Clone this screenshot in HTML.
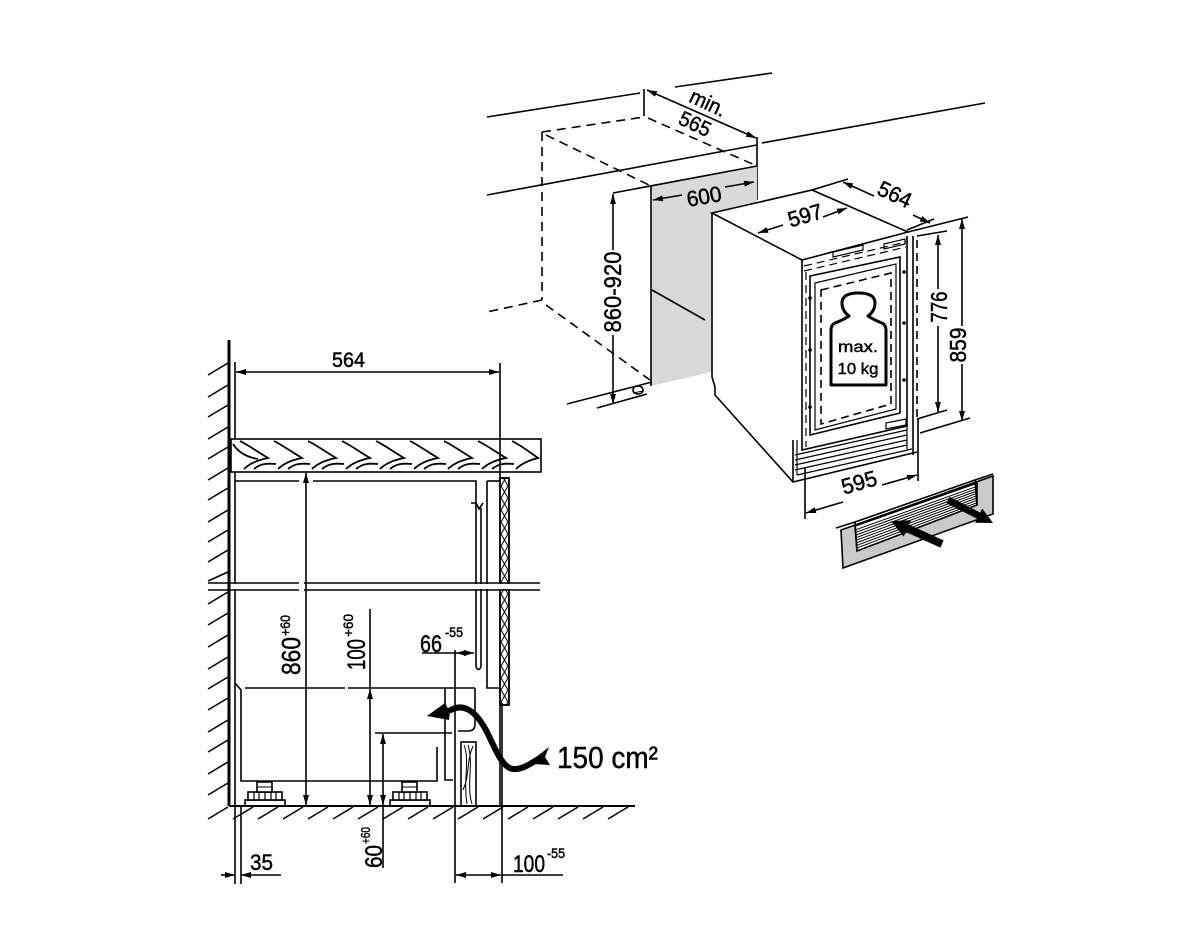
<!DOCTYPE html>
<html><head><meta charset="utf-8"><style>
html,body{margin:0;padding:0;background:#fff;}
svg{display:block;}
text{font-family:"Liberation Sans",sans-serif;fill:#000;stroke:#000;stroke-width:0.45;}
</style></head><body>
<svg width="1200" height="932" viewBox="0 0 1200 932" xmlns="http://www.w3.org/2000/svg">
<defs>
<marker id="ar" viewBox="0 0 10 6" refX="10" refY="3" markerWidth="10" markerHeight="6" markerUnits="userSpaceOnUse" orient="auto-start-reverse"><path d="M0,0L10,3L0,6z" fill="#000" stroke="none"/></marker>
<pattern id="dia" patternUnits="userSpaceOnUse" x="500" y="480" width="9" height="12"><path d="M4.5,0L1,6L4.5,12M4.5,0L8,6L4.5,12" stroke="#000" stroke-width="1" fill="none"/></pattern>
</defs>
<rect width="1200" height="932" fill="#fff"/>

<!-- ================= LEFT SECTION ================= -->
<g stroke="#000" stroke-width="1.6" fill="none">
<!-- wall -->
<line x1="229" y1="340" x2="229" y2="806" stroke-width="3"/>
<line x1="235" y1="362" x2="235" y2="884"/>
<g stroke-width="1.6">
<line x1="208" y1="375" x2="228" y2="363"/><line x1="208" y1="397" x2="228" y2="385"/>
<line x1="208" y1="417" x2="228" y2="405"/><line x1="208" y1="439" x2="228" y2="427"/>
<line x1="208" y1="459" x2="228" y2="447"/><line x1="208" y1="480" x2="228" y2="468"/>
<line x1="208" y1="500" x2="228" y2="488"/><line x1="208" y1="522" x2="228" y2="510"/>
<line x1="208" y1="542" x2="228" y2="530"/><line x1="208" y1="562" x2="228" y2="550"/>
<line x1="208" y1="581" x2="228" y2="572"/>
<line x1="208" y1="604" x2="228" y2="592"/><line x1="208" y1="625" x2="228" y2="613"/>
<line x1="208" y1="647" x2="228" y2="635"/><line x1="208" y1="669" x2="228" y2="657"/>
<line x1="208" y1="689" x2="228" y2="677"/><line x1="208" y1="710" x2="228" y2="698"/>
<line x1="208" y1="732" x2="228" y2="720"/><line x1="208" y1="752" x2="228" y2="740"/>
<line x1="208" y1="774" x2="228" y2="762"/><line x1="208" y1="795" x2="228" y2="783"/>
</g>

<!-- worktop -->
<rect x="231" y="439" width="310" height="33" fill="#fff"/>
<g stroke-width="1.8">
<path d="M240,441 C250,446 256,451 268,458 C258,460 250,463 244,469"/>
<path d="M274,441 C284,446 290,451 302,458 C292,460 284,463 278,469"/>
<path d="M308,441 C318,446 324,451 336,458 C326,460 318,463 312,469"/>
<path d="M342,441 C352,446 358,451 370,458 C360,460 352,463 346,469"/>
<path d="M376,441 C386,446 392,451 404,458 C394,460 386,463 380,469"/>
<path d="M410,441 C420,446 426,451 438,458 C428,460 420,463 414,469"/>
<path d="M444,441 C454,446 460,451 472,458 C462,460 454,463 448,469"/>
<path d="M478,441 C488,446 494,451 506,458 C496,460 488,463 482,469"/>
<path d="M512,441 C522,446 528,451 538,458 C530,460 522,463 516,469"/>
<path d="M233,444 C238,452 246,457 258,459"/>
<path d="M254,469 C260,464 266,463 276,464"/>
<path d="M288,469 C294,464 300,463 310,464"/>
<path d="M322,469 C328,464 334,463 344,464"/>
<path d="M356,469 C362,464 368,463 378,464"/>
<path d="M390,469 C396,464 402,463 412,464"/>
<path d="M424,469 C430,464 436,463 446,464"/>
<path d="M458,469 C464,464 470,463 480,464"/>
<path d="M492,469 C498,464 504,463 514,464"/>
</g>

<!-- 564 dimension -->
<line x1="236" y1="372" x2="499" y2="372" marker-start="url(#ar)" marker-end="url(#ar)"/>
<line x1="500" y1="363" x2="500" y2="478"/>

<!-- cabinet top -->
<line x1="235" y1="481" x2="299" y2="481"/>
<line x1="313" y1="481" x2="470" y2="481"/>
<path d="M470,481 H476 V667"/>
<path d="M471,503 H476 L479,509 L483,503"/>
<line x1="481" y1="508" x2="481" y2="667"/>
<path d="M476,667 Q478.5,672 481,667"/>
<path d="M487,481 V688 H500"/>
<line x1="487" y1="481" x2="500" y2="481"/>

<!-- door panel -->
<rect x="500" y="478" width="9" height="227" fill="url(#dia)"/>
<rect x="500" y="478" width="9" height="227"/>

<!-- break lines -->
<rect x="207" y="584" width="335" height="5" fill="#fff" stroke="none"/>
<line x1="208" y1="583" x2="299" y2="583"/><line x1="304" y1="583" x2="540" y2="583"/>
<line x1="208" y1="590" x2="299" y2="590"/><line x1="304" y1="590" x2="540" y2="590"/>
<line x1="229" y1="583" x2="229" y2="590" stroke-width="3"/>

<!-- appliance lower part -->
<path d="M235,683 L241,690 V781 H437 V747"/>
<line x1="245" y1="688" x2="345" y2="688"/>
<line x1="348" y1="688" x2="475" y2="688"/>
<path d="M445,688 V780 H453"/>
<path d="M475,688 V724 Q475,731 468,731 H458"/>
<line x1="500" y1="705" x2="500" y2="806"/>
<line x1="502" y1="703" x2="502" y2="883"/>

<!-- feet -->
<rect x="245" y="800" width="40" height="6" fill="#fff"/>
<rect x="248" y="792" width="34" height="8" fill="#fff"/>
<path d="M254,792V800M259,792V800M265,792V800M271,792V800M276,792V800" stroke-width="1.2"/>
<rect x="257" y="782" width="15" height="10" fill="#fff"/>
<line x1="257" y1="787" x2="272" y2="787" stroke-width="1"/>
<rect x="390" y="800" width="40" height="6" fill="#fff"/>
<rect x="393" y="792" width="34" height="8" fill="#fff"/>
<path d="M399,792V800M404,792V800M410,792V800M416,792V800M421,792V800" stroke-width="1.2"/>
<rect x="402" y="782" width="15" height="10" fill="#fff"/>
<line x1="402" y1="787" x2="417" y2="787" stroke-width="1"/>

<!-- plinth wood -->
<rect x="461" y="742" width="15" height="64" fill="#fff"/>
<path d="M464,745 C470,760 463,780 467,804 M468,745 C474,765 466,785 472,804 M473,746 C466,762 470,775 463,790" stroke-width="1"/>

<!-- floor -->
<line x1="229" y1="806" x2="635" y2="806" stroke-width="2"/>
<g stroke-width="1.5">
<line x1="228" y1="807" x2="208" y2="819"/><line x1="253" y1="807" x2="233" y2="819"/>
<line x1="278" y1="807" x2="258" y2="819"/><line x1="303" y1="807" x2="283" y2="819"/>
<line x1="328" y1="807" x2="308" y2="819"/><line x1="353" y1="807" x2="333" y2="819"/>
<line x1="378" y1="807" x2="358" y2="819"/><line x1="403" y1="807" x2="383" y2="819"/>
<line x1="428" y1="807" x2="408" y2="819"/><line x1="453" y1="807" x2="433" y2="819"/>
<line x1="478" y1="807" x2="458" y2="819"/><line x1="503" y1="807" x2="483" y2="819"/>
<line x1="528" y1="807" x2="508" y2="819"/><line x1="553" y1="807" x2="533" y2="819"/>
<line x1="578" y1="807" x2="558" y2="819"/><line x1="603" y1="807" x2="583" y2="819"/>
<line x1="628" y1="807" x2="608" y2="819"/>
</g>

<!-- dimensions -->
<line x1="306" y1="473" x2="306" y2="805" marker-start="url(#ar)" marker-end="url(#ar)"/>
<line x1="370" y1="609" x2="370" y2="688"/>
<line x1="370" y1="689" x2="370" y2="805" marker-start="url(#ar)" marker-end="url(#ar)"/>
<line x1="383" y1="734" x2="383" y2="805" marker-start="url(#ar)" marker-end="url(#ar)"/>
<line x1="383" y1="806" x2="383" y2="868"/>
<line x1="375" y1="733" x2="452" y2="733"/>
<line x1="241" y1="806" x2="241" y2="884"/>
<line x1="221" y1="875" x2="235" y2="875" marker-end="url(#ar)"/>
<line x1="281" y1="875" x2="241" y2="875" marker-end="url(#ar)"/>
<line x1="422" y1="653" x2="456" y2="653"/>
<line x1="456" y1="653" x2="474" y2="653" marker-start="url(#ar)" marker-end="url(#ar)"/>
<line x1="455" y1="650" x2="455" y2="883"/>
<line x1="456" y1="875" x2="501" y2="875" marker-start="url(#ar)" marker-end="url(#ar)"/>
<line x1="502" y1="875" x2="563" y2="875"/>

<!-- curved air arrow -->
<path d="M449,711 C466,700 479,716 488,734 C496,751 503,768 513,769 C523,770 533,762 543,756" stroke-width="6"/>
</g>
<polygon points="427,716 445,703 450,712 449,720" fill="#000"/>
<polygon points="535,758 549,747 545,757 550,765 533,764" fill="#000"/>

<!-- left labels -->
<text x="332" y="367" font-size="21" textLength="33" lengthAdjust="spacingAndGlyphs">564</text>
<text transform="translate(300,675) rotate(-90)" font-size="26" textLength="38" lengthAdjust="spacingAndGlyphs">860</text>
<text transform="translate(290,636) rotate(-90)" font-size="14" textLength="21" lengthAdjust="spacingAndGlyphs">+60</text>
<text transform="translate(365,670) rotate(-90)" font-size="25" textLength="31" lengthAdjust="spacingAndGlyphs">100</text>
<text transform="translate(353,637) rotate(-90)" font-size="14" textLength="23" lengthAdjust="spacingAndGlyphs">+60</text>
<text transform="translate(382,868) rotate(-90)" font-size="24" textLength="23" lengthAdjust="spacingAndGlyphs">60</text>
<text transform="translate(370,844) rotate(-90)" font-size="13" textLength="17" lengthAdjust="spacingAndGlyphs">+60</text>
<text x="250" y="870" font-size="22" textLength="23" lengthAdjust="spacingAndGlyphs">35</text>
<text x="420" y="652" font-size="24" textLength="22" lengthAdjust="spacingAndGlyphs">66</text>
<text x="445" y="637" font-size="14" textLength="18" lengthAdjust="spacingAndGlyphs">-55</text>
<text x="513" y="872" font-size="24" textLength="32" lengthAdjust="spacingAndGlyphs">100</text>
<text x="547" y="858" font-size="14" textLength="18" lengthAdjust="spacingAndGlyphs">-55</text>
<text x="557" y="768" font-size="31" textLength="101" lengthAdjust="spacingAndGlyphs">150 cm²</text>

<!-- ================= RIGHT SECTION ================= -->
<g stroke="#000" stroke-width="1.6" fill="none">
<line x1="487" y1="117" x2="640" y2="93"/>
<line x1="675" y1="87" x2="772" y2="73"/>
<line x1="762" y1="143" x2="985" y2="103"/>
<line x1="487" y1="195" x2="757" y2="145"/>
<line x1="644" y1="89" x2="644" y2="116"/>
<line x1="757" y1="137" x2="757" y2="200"/>
<line x1="647" y1="90" x2="756" y2="138" marker-start="url(#ar)" marker-end="url(#ar)"/>

<g stroke-dasharray="9 6">
<line x1="542" y1="132" x2="644" y2="117"/>
<line x1="542" y1="132" x2="542" y2="300"/>
<line x1="542" y1="300" x2="487" y2="312"/>
<line x1="546" y1="305" x2="650" y2="380"/>
<line x1="546" y1="135" x2="651" y2="186"/>
<line x1="648" y1="118" x2="757" y2="166"/>
</g>

<polygon points="651,186 757,166 757,360 711,372 651,386" fill="#d9d9d9" stroke="none"/>
<line x1="651" y1="186" x2="651" y2="386"/>
<line x1="613" y1="193" x2="757" y2="166"/>
<line x1="652" y1="290" x2="705" y2="320"/>
<line x1="613" y1="194" x2="613" y2="250" marker-start="url(#ar)"/>
<line x1="613" y1="335" x2="613" y2="404" marker-end="url(#ar)"/>
<line x1="567" y1="404" x2="652" y2="382"/>
<line x1="597" y1="408" x2="647" y2="394"/>
<ellipse cx="638" cy="390" rx="5" ry="4" fill="#fff"/>
<line x1="633" y1="393" x2="643" y2="391" stroke-width="1"/>

<!-- 600 dim -->
<line x1="653" y1="200" x2="682" y2="195" marker-start="url(#ar)"/>
<line x1="725" y1="187" x2="754" y2="182" marker-end="url(#ar)"/>

<!-- appliance body -->
<polygon points="712,213 812,190 908,232 913,236 913,458 793,482 715,395 712,377" fill="#fff" stroke="none"/>
<path d="M712,213 L812,190 L908,232 L802,260 Z"/>
<path d="M712,213 V377 L715,387 V395 L793,482 L917,452"/>
<line x1="793" y1="440" x2="793" y2="482"/>
<line x1="913" y1="236" x2="913" y2="455"/>
<line x1="917" y1="240" x2="917" y2="420" stroke-dasharray="8 5"/>

<!-- door -->
<path d="M802,260 V450 L907,426 V236"/>
<path d="M810,276 L900,257 V413 L810,435 Z"/>
<path d="M815,283 L896,264 V409 L815,430 Z" stroke-width="1.2"/>
<path d="M821,290 L891,273 V404 L821,424 Z" stroke-dasharray="8 5"/>
<line x1="806" y1="272" x2="806" y2="447" stroke-dasharray="8 5" stroke-width="1.2"/>
<path d="M804,266 L906,242" stroke-dasharray="8 5" stroke-width="1.2"/>
<path d="M804,271 L906,247" stroke-dasharray="8 5" stroke-width="1.2"/>
<path d="M833,252 L863,245 V250 L833,257 Z" stroke-width="1.2"/>
<path d="M884,244 L905,239 V244 L884,249 Z" stroke-width="1.2"/>
<path d="M886,423 L906,419 V425 L886,429 Z" stroke-width="1.2"/>
<!-- plinth strip -->
<g stroke-width="1.2">
<line x1="795" y1="455" x2="907" y2="430"/>
<line x1="795" y1="460" x2="907" y2="435"/>
<line x1="795" y1="465" x2="907" y2="440"/>
<line x1="795" y1="470" x2="907" y2="445"/>
<line x1="797" y1="475" x2="912" y2="449"/>
<line x1="797" y1="440" x2="797" y2="475"/>
<line x1="907" y1="426" x2="907" y2="449"/>
</g>

<!-- 597 -->
<line x1="758" y1="233" x2="783" y2="225" marker-start="url(#ar)"/>
<line x1="823" y1="217" x2="847" y2="208" marker-end="url(#ar)"/>
<!-- 564 -->
<line x1="812" y1="190" x2="848" y2="179"/>
<line x1="907" y1="230" x2="934" y2="219"/>
<line x1="843" y1="182" x2="874" y2="196" marker-start="url(#ar)"/>
<line x1="913" y1="215" x2="930" y2="223" marker-end="url(#ar)"/>
<!-- 776 -->
<line x1="917" y1="236" x2="947" y2="231"/>
<line x1="917" y1="419" x2="947" y2="410"/>
<line x1="938" y1="235" x2="938" y2="289" marker-start="url(#ar)"/>
<line x1="938" y1="326" x2="938" y2="412" marker-end="url(#ar)"/>
<!-- 859 -->
<line x1="908" y1="232" x2="968" y2="217"/>
<line x1="920" y1="433" x2="970" y2="418"/>
<line x1="962" y1="219" x2="962" y2="326" marker-start="url(#ar)"/>
<line x1="962" y1="364" x2="962" y2="421" marker-end="url(#ar)"/>
<!-- 595 -->
<line x1="805" y1="467" x2="805" y2="519"/>
<line x1="918" y1="419" x2="918" y2="481"/>
<line x1="806" y1="513" x2="843" y2="502" marker-start="url(#ar)"/>
<line x1="882" y1="485" x2="917" y2="475" marker-end="url(#ar)"/>

<!-- vent grille -->
<polygon points="841,530 993,476 993,514 843,568" fill="#c9c9c9"/>
<polygon points="855,526 977,483 977,505 857,551" fill="#fff"/>
<g stroke-width="1">
<line x1="856" y1="529.7" x2="977" y2="486.3"/><line x1="856" y1="532.3" x2="977" y2="488.7"/>
<line x1="856" y1="535" x2="977" y2="491"/><line x1="856" y1="537.7" x2="977" y2="493.3"/>
<line x1="856" y1="540.3" x2="977" y2="495.7"/><line x1="856" y1="543" x2="977" y2="498"/>
<line x1="856" y1="545.7" x2="977" y2="500.3"/><line x1="856" y1="548.3" x2="977" y2="502.7"/>
</g>
<line x1="836" y1="528" x2="855" y2="522"/>
<line x1="855" y1="522" x2="975" y2="480"/>
<line x1="975" y1="480" x2="993" y2="474"/>
<line x1="855" y1="522" x2="857" y2="551"/>
<line x1="975" y1="480" x2="977" y2="505"/>
</g>
<polygon points="891,521 911.1,520.2 909,524.8 943.6,540.4 940.4,547.6 905.8,532 903.7,536.6" fill="#000"/>
<polygon points="993,523 982.3,508.6 980.3,512.6 949.6,496.9 946.4,503.1 977.1,518.8 975.1,522.8" fill="#000"/>

<!-- dots -->
<g fill="#000">
<circle cx="810" cy="298" r="1.8"/><circle cx="810" cy="350" r="1.8"/><circle cx="810" cy="407" r="1.8"/>
<circle cx="904" cy="272" r="1.8"/><circle cx="904" cy="323" r="1.8"/><circle cx="904" cy="380" r="1.8"/>
</g>

<!-- weight icon -->
<path d="M849,316 Q842,311 842,303 Q842,293 858.5,293 Q875,293 875,303 Q875,311 868,316 Q874,320 882,323 Q886,325 886,330 V385 H831 V330 Q831,325 835,323 Q843,320 849,316 Z" fill="#fff" stroke="#000" stroke-width="3" stroke-linejoin="round"/>
<text x="858" y="352" font-size="16" text-anchor="middle" textLength="40" lengthAdjust="spacingAndGlyphs">max.</text>
<text x="858" y="374" font-size="16" text-anchor="middle" textLength="41" lengthAdjust="spacingAndGlyphs">10 kg</text>

<!-- right labels -->
<text transform="translate(708,103) rotate(25)" y="7" font-size="21" text-anchor="middle" textLength="38" lengthAdjust="spacingAndGlyphs">min.</text>
<text transform="translate(695,124) rotate(25)" y="7" font-size="21" text-anchor="middle" textLength="33" lengthAdjust="spacingAndGlyphs">565</text>
<text transform="translate(704,196) rotate(-10)" y="8" font-size="22" text-anchor="middle" textLength="35" lengthAdjust="spacingAndGlyphs">600</text>
<text transform="translate(613,292) rotate(-90)" y="8" font-size="24" text-anchor="middle" textLength="81" lengthAdjust="spacingAndGlyphs">860-920</text>
<text transform="translate(805,215) rotate(-16)" y="8" font-size="22" text-anchor="middle" textLength="35" lengthAdjust="spacingAndGlyphs">597</text>
<text transform="translate(895,194) rotate(25)" y="8" font-size="22" text-anchor="middle" textLength="35" lengthAdjust="spacingAndGlyphs">564</text>
<text transform="translate(939,307) rotate(-90)" y="8" font-size="23" text-anchor="middle" textLength="31" lengthAdjust="spacingAndGlyphs">776</text>
<text transform="translate(958,345) rotate(-90)" y="8" font-size="23" text-anchor="middle" textLength="35" lengthAdjust="spacingAndGlyphs">859</text>
<text transform="translate(859,482) rotate(-16)" y="8" font-size="22" text-anchor="middle" textLength="36" lengthAdjust="spacingAndGlyphs">595</text>
</svg>
</body></html>
